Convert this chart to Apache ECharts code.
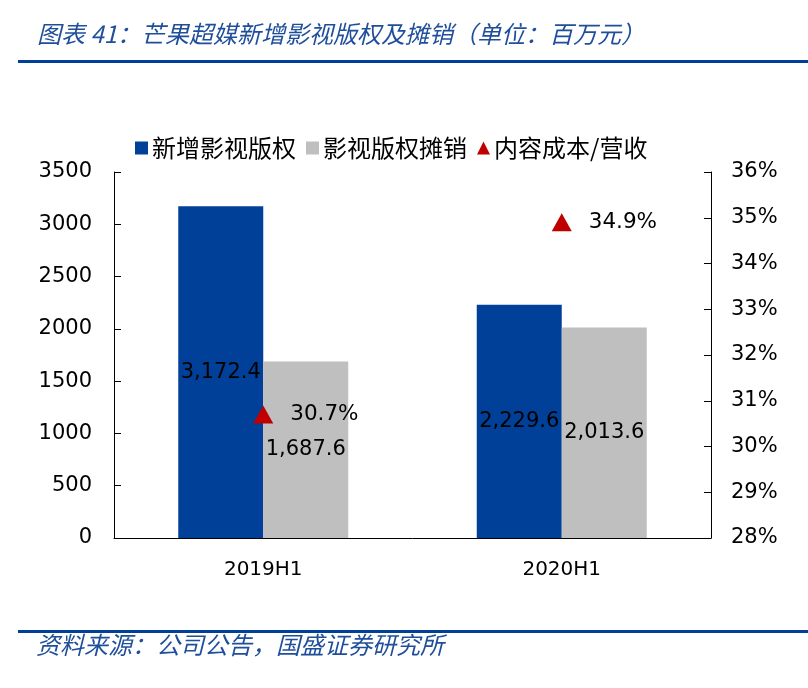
<!DOCTYPE html>
<html lang="zh-CN">
<head>
  <meta charset="UTF-8">
  <script src="https://cdn.jsdelivr.net/npm/echarts@6/dist/echarts.min.js"></script>
  <title>芒果超媒新增影视版权及摊销</title>
  <style>
    html, body { margin: 0; padding: 0; background: #ffffff; }
    #chart { width: 808px; height: 688px; }
  </style>
</head>
<body>
<div id="chart"></div>
<script>
  // 数据
  const categories = ['2019H1', '2020H1'];
  const newRights = [3172.4, 2229.6];       // 新增影视版权
  const amortization = [1687.6, 2013.6];    // 影视版权摊销
  const costRatio = [30.7, 34.9];           // 内容成本/营收 (%)

  const seriesNames = ['新增影视版权', '影视版权摊销', '内容成本/营收'];
  const titleText = '图表 41：芒果超媒新增影视版权及摊销（单位：百万元）';
  const sourceText = '资料来源：公司公告，国盛证券研究所';

  const BLUE = '#004098';
  const GRAY = '#bfbfbf';
  const RED = '#c00000';
  const numFont = 'DejaVu Sans';
  const cjkFont = 'Noto Sans CJK SC';

  const fmt = v => v.toLocaleString('en-US', { minimumFractionDigits: 1, maximumFractionDigits: 1 });

  const chart = echarts.init(document.getElementById('chart'));
  const option = {
    animation: false,
    backgroundColor: '#ffffff',
    graphic: [
      {
        type: 'text', left: 37, top: 22,
        style: { text: titleText, fill: '#1f4e9a', font: 'italic 24px "Noto Sans CJK SC"' }
      },
      {
        type: 'rect', shape: { x: 18, y: 60, width: 790, height: 3 },
        style: { fill: BLUE }
      },
      {
        type: 'rect', shape: { x: 18, y: 630, width: 790, height: 3 },
        style: { fill: BLUE }
      },
      {
        type: 'text', left: 36, top: 633,
        style: { text: sourceText, fill: '#1f4e9a', font: 'italic 24px "Noto Sans CJK SC"' }
      }
    ],
    legend: {
      top: 131,
      left: 130,
      itemGap: 10,
      itemWidth: 13,
      itemHeight: 13,
      textStyle: { fontFamily: cjkFont, fontSize: 24, color: '#000', padding: [0, 0, 0, -1] },
      data: [
        { name: seriesNames[0], icon: 'rect' },
        { name: seriesNames[1], icon: 'rect' },
        { name: seriesNames[2], icon: 'triangle' }
      ]
    },
    grid: { left: 114, right: 97, top: 172, bottom: 150 },
    xAxis: {
      type: 'category',
      data: categories,
      axisLine: { lineStyle: { color: '#000', width: 1 } },
      axisTick: { inside: true, length: 8, lineStyle: { color: '#555' } },
      axisLabel: { fontFamily: numFont, fontSize: 20, color: '#000', margin: 22 }
    },
    yAxis: [
      {
        type: 'value', min: 0, max: 3500, interval: 500,
        splitLine: { show: false },
        axisLine: { show: true, lineStyle: { color: '#000' } },
        axisTick: { show: true, inside: true, length: 7, lineStyle: { color: '#000' } },
        axisLabel: { fontFamily: numFont, fontSize: 21, color: '#000', margin: 22, formatter: v => String(v) }
      },
      {
        type: 'value', min: 28, max: 36, interval: 1,
        splitLine: { show: false },
        axisLine: { show: true, lineStyle: { color: '#000' } },
        axisTick: { show: true, inside: true, length: 7, lineStyle: { color: '#000' } },
        axisLabel: { fontFamily: numFont, fontSize: 21, color: '#000', margin: 20, formatter: '{value}%' }
      }
    ],
    series: [
      {
        name: seriesNames[0], type: 'bar', data: newRights,
        barWidth: 85, barGap: '0%',
        itemStyle: { color: BLUE },
        label: {
          show: true, position: 'inside', color: '#000',
          fontFamily: numFont, fontSize: 21,
          formatter: p => fmt(p.value)
        }
      },
      {
        name: seriesNames[1], type: 'bar', data: amortization,
        barWidth: 85, barGap: '0%',
        itemStyle: { color: GRAY },
        label: {
          show: true, position: 'inside', color: '#000',
          fontFamily: numFont, fontSize: 21,
          formatter: p => fmt(p.value)
        }
      },
      {
        name: seriesNames[2], type: 'scatter', yAxisIndex: 1, data: costRatio,
        symbol: 'triangle', symbolSize: [20, 18],
        itemStyle: { color: RED, opacity: 1 },
        label: {
          show: true, position: 'right', distance: 17, color: '#000',
          fontFamily: numFont, fontSize: 21.5,
          formatter: p => p.value.toFixed(1) + '%'
        }
      }
    ]
  };
  chart.setOption(option);
</script>
</body>
</html>
